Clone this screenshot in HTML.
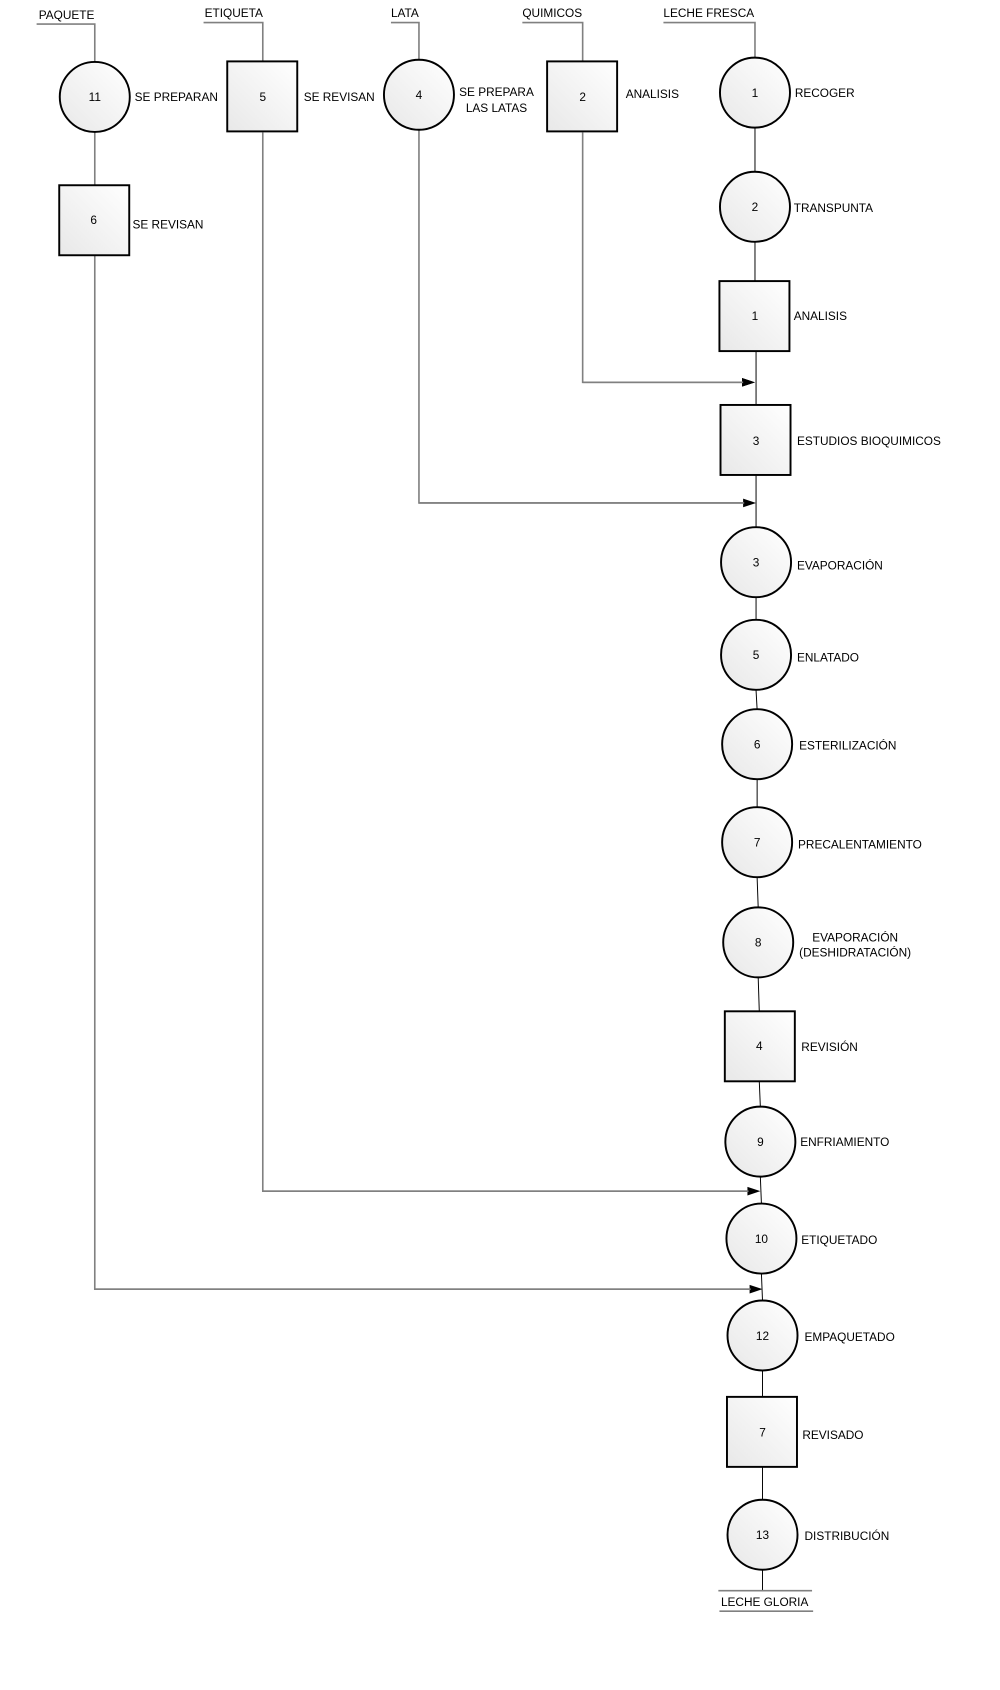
<!DOCTYPE html>
<html><head><meta charset="utf-8"><style>
html,body{margin:0;padding:0;background:#fff;}
svg{display:block;}
text{font-family:"Liberation Sans",Arial,sans-serif;font-size:11px;fill:#000;}
</style></head><body>
<svg width="1000" height="1690" viewBox="0 0 1000 1690" xmlns="http://www.w3.org/2000/svg">
<defs>
<linearGradient id="g" x1="0" y1="1" x2="1" y2="0">
<stop offset="0" stop-color="#e8e8e8"/><stop offset="1" stop-color="#ffffff"/>
</linearGradient>
<marker id="a" markerWidth="12" markerHeight="8" refX="12" refY="4" orient="auto" markerUnits="userSpaceOnUse">
<path d="M0,0 L12,4 L0,8 Z" fill="#000"/>
</marker>
</defs>
<g transform="scale(1.077)">
<!-- top source labels -->
<g fill="none" stroke="#808080" stroke-width="1.5">
<polyline points="34,22.3 88,22.3 88,58"/>
<polyline points="189,21 244,21 244,57"/>
<polyline points="363,21 389,21 389,56"/>
<polyline points="485,21 541,21 541,57"/>
<polyline points="616,21 701,21 701,54"/>
<!-- feed lines -->
<polyline points="88,122 88,172"/>
<polyline points="88,237 88,1197 700,1197"/>
<polyline points="244,123 244,1106 697,1106"/>
<polyline points="389,120 389,467 694,467"/>
<polyline points="541,123 541,355 694,355"/>
</g>
<g stroke="#000" stroke-width="1" fill="none">
<line x1="541" y1="355" x2="701" y2="355" marker-end="url(#a)" stroke="none"/>
</g>
<!-- arrowheads -->
<g fill="#000">
<path d="M689,351 L701,355 L689,359 Z"/>
<path d="M690,463 L702,467 L690,471 Z"/>
<path d="M694,1102 L706,1106 L694,1110 Z"/>
<path d="M696,1193 L708,1197 L696,1201 Z"/>
</g>
<g stroke="#808080" stroke-width="1.5">
<line x1="541" y1="355" x2="690" y2="355"/>
<line x1="389" y1="467" x2="691" y2="467"/>
<line x1="244" y1="1106" x2="695" y2="1106"/>
<line x1="88" y1="1197" x2="697" y2="1197"/>
</g>
<!-- main column line -->
<polyline fill="none" stroke="#000" stroke-width="0.9" points="701,118 701,160 701,225 701,261 702,326 702,376 702,441 702,490 702,555 702,576 702,641 703,659 703,724 703,750 703,815 704,843 704,908 705,939 705,1004 706,1028 706,1093 707,1118 707,1183 708,1208 708,1273 708,1297 708,1362 708,1393 708,1457 708,1477"/>
<!-- nodes -->
<g stroke="#000" stroke-width="1.8" fill="url(#g)">
<circle cx="88" cy="90" r="32.5"/>
<rect x="211" y="57" width="65" height="65"/>
<circle cx="389" cy="88" r="32.5"/>
<rect x="508" y="57" width="65" height="65"/>
<circle cx="701" cy="86" r="32.5"/>
<rect x="55" y="172" width="65" height="65"/>
<circle cx="701" cy="192" r="32.5"/>
<rect x="668" y="261" width="65" height="65"/>
<rect x="669" y="376" width="65" height="65"/>
<circle cx="702" cy="522" r="32.5"/>
<circle cx="702" cy="608" r="32.5"/>
<circle cx="703" cy="691" r="32.5"/>
<circle cx="703" cy="782" r="32.5"/>
<circle cx="704" cy="875" r="32.5"/>
<rect x="673" y="939" width="65" height="65"/>
<circle cx="706" cy="1060" r="32.5"/>
<circle cx="707" cy="1150" r="32.5"/>
<circle cx="708" cy="1240" r="32.5"/>
<rect x="675" y="1297" width="65" height="65"/>
<circle cx="708" cy="1425" r="32.5"/>
</g>
<!-- node numbers -->
<g text-anchor="middle">
<text x="88" y="94">11</text>
<text x="244" y="94">5</text>
<text x="389" y="92">4</text>
<text x="541" y="94">2</text>
<text x="701" y="90">1</text>
<text x="87" y="208">6</text>
<text x="701" y="196">2</text>
<text x="701" y="297">1</text>
<text x="702" y="413">3</text>
<text x="702" y="526">3</text>
<text x="702" y="612">5</text>
<text x="703" y="695">6</text>
<text x="703" y="786">7</text>
<text x="704" y="879">8</text>
<text x="705" y="975">4</text>
<text x="706" y="1064">9</text>
<text x="707" y="1154">10</text>
<text x="708" y="1244">12</text>
<text x="708" y="1334">7</text>
<text x="708" y="1429">13</text>
</g>
<!-- top labels -->
<text x="36" y="17.6">PAQUETE</text>
<text x="190" y="16">ETIQUETA</text>
<text x="363" y="16">LATA</text>
<text x="485" y="16">QUIMICOS</text>
<text x="616" y="16">LECHE FRESCA</text>
<!-- descriptions -->
<text x="125" y="94">SE PREPARAN</text>
<text x="282" y="94">SE REVISAN</text>
<text x="461" y="89" text-anchor="middle">SE PREPARA</text>
<text x="461" y="104" text-anchor="middle">LAS LATAS</text>
<text x="581" y="91">ANALISIS</text>
<text x="738" y="90">RECOGER</text>
<text x="123" y="212">SE REVISAN</text>
<text x="737" y="197">TRANSPUNTA</text>
<text x="737" y="297">ANALISIS</text>
<text x="740" y="413">ESTUDIOS BIOQUIMICOS</text>
<text x="740" y="529">EVAPORACIÓN</text>
<text x="740" y="614">ENLATADO</text>
<text x="742" y="696">ESTERILIZACIÓN</text>
<text x="741" y="788">PRECALENTAMIENTO</text>
<text x="794" y="874" text-anchor="middle">EVAPORACIÓN</text>
<text x="794" y="888" text-anchor="middle">(DESHIDRATACIÓN)</text>
<text x="744" y="976">REVISIÓN</text>
<text x="743" y="1064">ENFRIAMIENTO</text>
<text x="744" y="1155">ETIQUETADO</text>
<text x="747" y="1245">EMPAQUETADO</text>
<text x="745" y="1336">REVISADO</text>
<text x="747" y="1430">DISTRIBUCIÓN</text>
<!-- output -->
<g stroke="#808080" stroke-width="1.5">
<line x1="667" y1="1477" x2="754" y2="1477"/>
<line x1="668" y1="1496" x2="755" y2="1496"/>
</g>
<text x="710" y="1491" text-anchor="middle">LECHE GLORIA</text>
</g>
</svg>
</body></html>
